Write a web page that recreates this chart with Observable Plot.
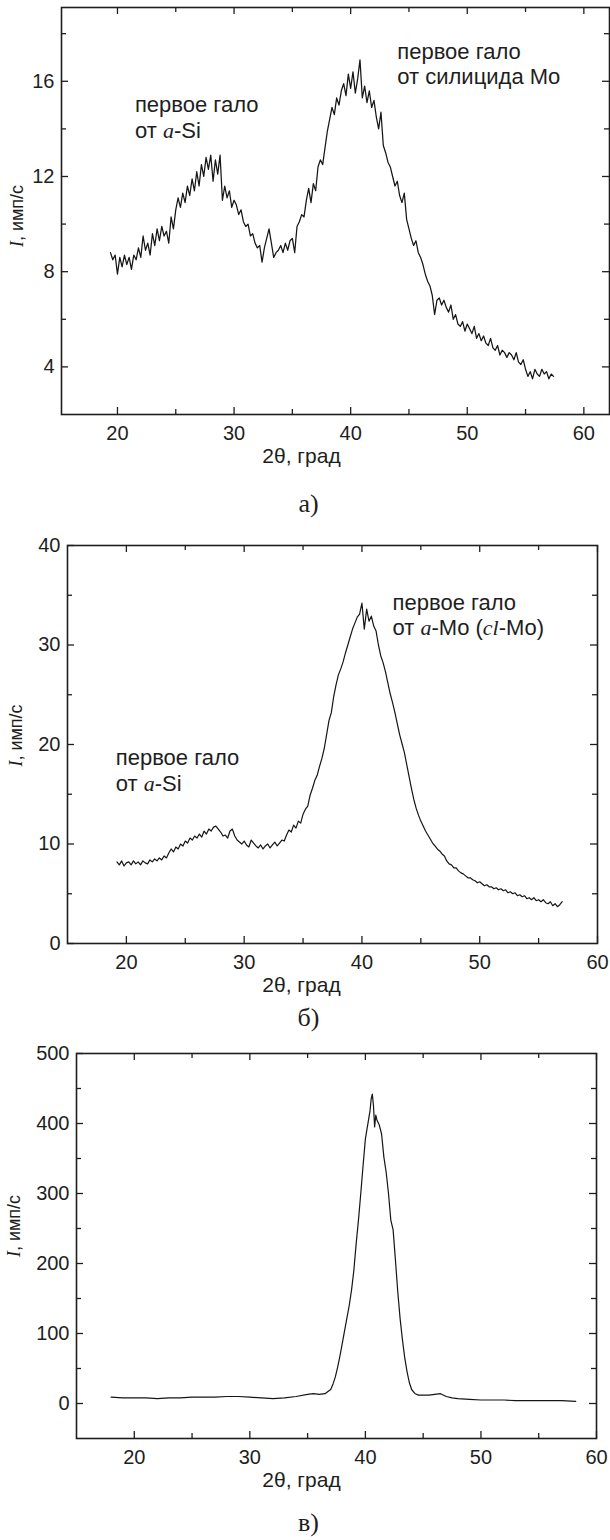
<!DOCTYPE html>
<html><head><meta charset="utf-8">
<script src="https://cdn.jsdelivr.net/npm/d3@7"></script>
<script src="https://cdn.jsdelivr.net/npm/@observablehq/plot@0.6"></script>
<style>
body{margin:0;background:#fff;}
#root{width:610px;height:1540px;position:relative;overflow:hidden;}
#root svg{display:block;}
</style></head><body><div id="root"></div>
<script>
// ---- Panel а): scan grid and intensities (имп/с)
const aStart = 19.4, aStep = 0.2;
const aI = [
 8.8, 8.5, 8.7, 7.9, 8.6, 8.2, 8.7, 8.3, 8.6, 8.1,
 8.7, 8.5, 9.0, 8.6, 9.5, 8.9, 9.2, 8.7, 9.6, 9.1,
 9.8, 9.3, 9.9, 9.5, 9.7, 9.2, 10.3, 9.8, 10.6, 11.1,
 10.7, 11.3, 10.9, 11.6, 11.2, 11.9, 11.4, 12.2, 11.6, 12.5,
 12.0, 12.8, 12.3, 12.9, 11.8, 12.7, 12.1, 12.9, 11.0, 11.6,
 11.1, 11.4, 10.7, 11.0, 10.8, 10.4, 10.6, 10.1, 9.9, 10.0,
 9.5, 9.6, 9.2, 9.0, 9.1, 8.4, 9.0, 9.4, 9.8, 9.2,
 8.6, 8.8, 8.9, 9.1, 8.8, 9.2, 8.9, 9.3, 9.4, 8.8,
 9.9, 10.1, 10.4, 10.3, 11.0, 11.5, 10.9, 11.7, 11.4, 12.4,
 12.7, 12.5, 13.2, 13.9, 14.4, 14.9, 14.6, 15.3, 15.0, 15.6,
 15.9, 15.4, 16.3, 15.7, 16.4, 15.5, 16.1, 16.9, 15.3, 15.8,
 15.1, 15.6, 14.9, 15.2, 14.5, 14.0, 14.7, 13.3, 13.0, 12.6,
 12.4, 12.0, 11.6, 11.8, 11.2, 10.9, 11.3, 10.2, 9.8, 9.4,
 9.1, 9.3, 8.8, 8.6, 8.3, 7.9, 7.6, 7.4, 7.0, 6.2,
 6.8, 6.9, 6.6, 6.8, 6.5, 6.3, 6.6, 6.0, 6.2, 5.8,
 5.7, 5.9, 5.5, 5.8, 5.6, 5.4, 5.7, 5.2, 5.4, 5.1,
 5.3, 5.0, 4.9, 5.2, 4.8, 4.7, 4.9, 4.5, 4.7, 4.6,
 4.4, 4.6, 4.5, 4.3, 4.6, 4.2, 4.1, 4.3, 3.9, 3.6,
 3.8, 3.5, 3.9, 3.7, 3.6, 3.9, 3.7, 3.8, 3.5, 3.7,
 3.6
];
const aNotes = [
  {x: 21.5, y: 14.5, text: "первое гало\nот a-Si"},
  {x: 44.0, y: 16.74, text: "первое гало\nот силицида Mo"}
];

// ---- Panel б)
const bStart = 19.2, bStep = 0.2;
const bI = [
 8.2, 7.9, 8.3, 7.8, 8.1, 8.2, 7.9, 8.3, 8.0, 8.2,
 7.9, 8.3, 8.1, 8.0, 8.4, 8.2, 8.5, 8.3, 8.6, 8.4,
 8.8, 8.6, 9.1, 9.5, 9.2, 9.7, 9.5, 10.0, 9.8, 10.3,
 10.1, 10.6, 10.4, 10.8, 10.6, 11.0, 10.7, 11.3, 11.0, 11.5,
 11.3, 11.7, 11.8, 11.5, 11.2, 10.8, 10.9, 10.6, 11.3, 11.5,
 10.8, 10.4, 10.2, 10.0, 10.3, 9.9, 9.7, 10.4, 10.1, 9.8,
 9.6, 9.9, 9.5, 9.8, 10.0, 9.6, 9.9, 10.2, 9.8, 10.1,
 10.4, 10.3, 10.9, 11.4, 11.2, 11.9, 11.6, 12.3, 12.1, 13.0,
 13.5, 13.8, 14.9, 15.6, 16.4, 16.9, 17.8, 18.6, 19.6, 21.0,
 22.4, 23.2, 24.8, 26.0, 27.0, 27.6, 28.3, 29.2, 30.0, 30.8,
 31.6, 32.2, 32.8, 33.1, 34.2, 31.6, 33.6, 32.4, 32.9, 31.9,
 31.4, 30.0, 28.9, 28.2, 27.3, 26.2, 25.1, 24.2, 23.2, 22.1,
 21.0, 20.1, 19.2, 18.0, 16.8, 15.6, 14.5, 13.6, 12.9, 12.3,
 11.8, 11.3, 10.9, 10.5, 10.1, 9.8, 9.5, 9.3, 9.0, 8.8,
 8.3, 8.0, 7.9, 7.6, 7.6, 7.3, 7.1, 7.0, 6.8, 6.6,
 6.6, 6.4, 6.3, 6.1, 6.2, 6.0, 5.8, 5.9, 5.7, 5.7,
 5.5, 5.6, 5.4, 5.5, 5.3, 5.4, 5.1, 5.2, 5.0, 5.1,
 4.8, 4.9, 4.7, 4.8, 4.5, 4.6, 4.4, 4.6, 4.3, 4.4,
 4.2, 4.4, 4.1, 4.0, 4.2, 3.8, 4.0, 3.7, 3.9, 4.2
];
const bNotes = [
  {x: 19.1, y: 17.45, text: "первое гало\nот a-Si"},
  {x: 42.6, y: 33.05, text: "первое гало\nот a-Mo (cl-Mo)"}
];

// ---- Panel в)
const vX = [18, 19, 20, 21, 22, 23, 24, 25, 26, 27, 28, 29, 30, 31, 32, 33, 34, 35, 35.5, 36, 36.5, 37,
  37.2, 37.4, 37.6, 37.8, 38.0, 38.2, 38.4, 38.6, 38.8, 39.0, 39.2, 39.4, 39.6, 39.8, 40.0, 40.2, 40.4,
  40.5, 40.6, 40.7, 40.8, 40.9, 41.0, 41.2, 41.4, 41.6, 41.8, 42.0, 42.2, 42.4, 42.6, 42.8, 43.0, 43.2,
  43.4, 43.6, 43.8, 44.0, 44.3, 44.6, 45, 45.5, 46, 46.5, 47, 47.5, 48, 49, 50, 51, 52, 53, 54, 55, 56, 57, 58.2];
const vI = [9, 8, 8, 8, 7, 8, 8, 9, 9, 9, 10, 10, 9, 8, 7, 8, 10, 13, 14, 13, 14, 20,
  28, 38, 52, 68, 86, 104, 122, 140, 162, 190, 228, 262, 300, 340, 378, 398, 418,
  435, 442, 425, 395, 412, 405, 398, 385, 352, 330, 300, 262, 248, 205, 160, 122, 92,
  66, 46, 30, 20, 14, 12, 12, 12, 13, 14, 10, 8, 7, 6, 5, 5, 5, 4, 4, 4, 4, 4, 3];

// ---- tick values
const xMajor = [20, 30, 40, 50, 60];
const xMinor = [25, 35, 45, 55];
const aYMajor = [4, 8, 12, 16], aYMinor = [6, 10, 14, 18];
const bYMajor = [0, 10, 20, 30, 40], bYMinor = [5, 15, 25, 35];
const vYMajor = [0, 100, 200, 300, 400, 500], vYMinor = [50, 150, 250, 350, 450];

const xLabel = "2θ, град";
const yLabel = "I, имп/с";

const INK = "#1e1e1e";
function grid(start, step, vals) { return vals.map((v, i) => ({x: +(start + i * step).toFixed(2), y: v})); }

function italicize(svg) {
  svg.querySelectorAll("text, tspan").forEach(el => {
    if (el.children.length) return;
    const t = el.textContent;
    if (!(/ a-|\(cl-|^I,/.test(t))) return;
    const it = s => `<tspan font-family="'Liberation Serif', 'Times New Roman', serif" font-style="italic">${s}</tspan>`;
    let h = t.replace(/&/g, "&amp;").replace(/</g, "&lt;");
    h = h.replace(/ a-/g, " " + it("a") + "-").replace(/\(cl-/g, "(" + it("cl") + "-").replace(/^I,/, it("I") + ",");
    el.innerHTML = h;
  });
}

function panel(o) {
  const fh = o.height - o.mt - o.mb, fw = 610 - o.ml - o.mr;
  const cx = o.ml + fw / 2;
  const inX = v => v >= o.xDomain[0] && v <= o.xDomain[1];
  const inY = v => v > o.yDomain[0] && v < o.yDomain[1];
  const LMaj = 7, LMin = 5;
  const tk = {stroke: INK, strokeWidth: 1.3};
  const xs = xMajor.filter(inX), xm = xMinor.filter(inX);
  const ys = o.yMajor.filter(inY), ym = o.yMinor.filter(inY);
  const yl = o.yMajor.filter(v => v >= o.yDomain[0] && v <= o.yDomain[1]);
  const chart = Plot.plot({
    width: 610, height: o.height,
    marginTop: o.mt, marginBottom: o.mb, marginLeft: o.ml, marginRight: o.mr,
    x: {domain: o.xDomain, label: null},
    y: {domain: o.yDomain, label: null},
    style: {fontFamily: "'Liberation Sans', Arial, sans-serif", fontSize: "20px", color: INK, background: "white"},
    marks: [
      Plot.line(o.data, {x: "x", y: "y", stroke: "#151515", strokeWidth: o.lw, strokeLinejoin: "round"}),
      Plot.tickX(xs, {x: d => d, insetTop: fh - LMaj, ...tk}),
      Plot.tickX(xs, {x: d => d, insetBottom: fh - LMaj, ...tk}),
      Plot.tickX(xm, {x: d => d, insetTop: fh - LMin, ...tk}),
      Plot.tickX(xm, {x: d => d, insetBottom: fh - LMin, ...tk}),
      Plot.tickY(yl, {y: d => d, insetRight: fw - LMaj, ...tk}),
      Plot.tickY(ys, {y: d => d, insetLeft: fw - LMaj, ...tk}),
      Plot.tickY(ym, {y: d => d, insetRight: fw - LMin, ...tk}),
      Plot.tickY(ym, {y: d => d, insetLeft: fw - LMin, ...tk}),
      Plot.frame({stroke: INK, strokeWidth: 1.6}),
      Plot.axisX(xs, {tickSize: 0, tickPadding: 11, label: null, fill: INK}),
      Plot.axisY(yl, {tickSize: 0, tickPadding: 7, label: null, fill: INK}),
      Plot.text([xLabel], {frameAnchor: "bottom", dx: 301 - cx, dy: 42, lineAnchor: "middle", fontSize: 21, fill: INK}),
      Plot.text([yLabel], {frameAnchor: "left", dx: o.ylx - o.ml, dy: o.yly, rotate: -90, lineAnchor: "middle", textAnchor: "middle", fontSize: 18, fill: INK}),
      Plot.text([o.caption], {frameAnchor: "bottom", dx: 308 - cx, dy: o.capDy, lineAnchor: "middle", fontSize: 26, fontFamily: "'Liberation Serif', 'Times New Roman', serif", fill: INK}),
      o.notes ? Plot.text(o.notes, {x: "x", y: "y", text: "text", textAnchor: "start", lineAnchor: "middle", lineHeight: 1.15, fontSize: 22, fill: INK}) : null
    ]
  });
  italicize(chart);
  return chart;
}

const root = document.getElementById("root");
root.append(panel({
  data: grid(aStart, aStep, aI), notes: aNotes, lw: 1.25,
  xDomain: [15.2, 62.2], yDomain: [2, 19.1],
  height: 520, mt: 7, mb: 106, ml: 61, mr: 1,
  yMajor: aYMajor, yMinor: aYMinor, ylx: 17, yly: 5, caption: "а)", capDy: 89
}));
root.append(panel({
  data: grid(bStart, bStep, bI), notes: bNotes, lw: 1.2,
  xDomain: [15, 60], yDomain: [0, 40],
  height: 515, mt: 25, mb: 92, ml: 67, mr: 13,
  yMajor: bYMajor, yMinor: bYMinor, ylx: 16, yly: -9, caption: "б)", capDy: 74
}));
root.append(panel({
  data: vX.map((x, i) => ({x, y: vI[i]})), notes: null, lw: 1.2,
  xDomain: [15, 60], yDomain: [-50, 500],
  height: 505, mt: 18, mb: 102, ml: 76, mr: 14,
  yMajor: vYMajor, yMinor: vYMinor, ylx: 14, yly: -20, caption: "в)", capDy: 84
}));
</script></body></html>
